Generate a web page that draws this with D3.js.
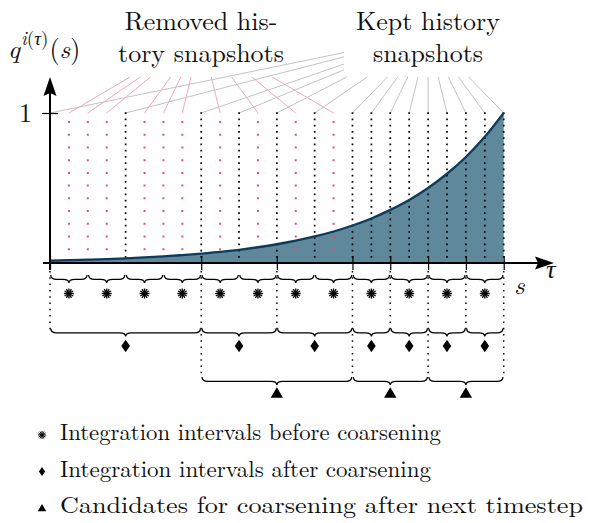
<!DOCTYPE html>
<html>
<head>
<meta charset="utf-8">
<script src="https://cdn.jsdelivr.net/npm/d3@7"></script>
<style>
  html, body { margin: 0; padding: 0; background: #fff; }
  svg { display: block; }
</style>
</head>
<body>
<svg id="chart" width="594" height="523"></svg>
<script>
// ---- data ---------------------------------------------------------------
// history snapshots along the time axis (grid index 0..24)
const snapshots = [0, 1, 2, 3, 4, 5, 6, 7, 8, 9, 10, 11, 12, 13, 14, 15, 16, 17, 18, 19, 20, 21, 22, 23, 24];
// weight q(s) at each snapshot
const qValues = [0.016, 0.019, 0.022, 0.026, 0.031, 0.037, 0.044, 0.053, 0.063, 0.074, 0.088, 0.105, 0.125,
                 0.149, 0.177, 0.210, 0.250, 0.297, 0.354, 0.420, 0.500, 0.595, 0.707, 0.841, 1.000];
const keptSnapshots = [0, 4, 8, 10, 12, 14, 16, 17, 18, 19, 20, 21, 22, 23, 24];
const removedSnapshots = [1, 2, 3, 5, 6, 7, 9, 11, 13, 15];
const intervalsBefore = [[0, 2], [2, 4], [4, 6], [6, 8], [8, 10], [10, 12], [12, 14], [14, 16], [16, 18], [18, 20], [20, 22], [22, 24]];
const intervalsAfter = [[0, 8], [8, 12], [12, 16], [16, 18], [18, 20], [20, 22], [22, 24]];
const coarseningCandidates = [[8, 16], [16, 20], [20, 24]];
const axisTicks = [0, 8, 12, 16, 18, 20, 22, 24];
const yTicks = [1];
const removedLabel = ["Removed his-", "tory snapshots"];
const keptLabel = ["Kept history", "snapshots"];
const legendMarks = ["asterisk", "diamond", "triangle"];
const legendTexts = ["Integration intervals before coarsening",
                     "Integration intervals after coarsening",
                     "Candidates for coarsening after next timestep"];

// ---- setup ----------------------------------------------------------------
const serif = "'Latin Modern Roman','CMU Serif','Liberation Serif','Times New Roman',serif";
const svg = d3.select("#chart");
const x = d3.scaleLinear().domain([0, 24]).range([50, 503.7]);
const y = d3.scaleLinear().domain([0, 1]).range([263, 113]);

const ink = "#000";
const textInk = "#111";
const fillColor = "#5f889b";
const curveColor = "#0b3c5c";
const pinkDot = "#ee4d72";
const pinkLead = "#f6a6b9";
const grayLead = "#c3c3c3";

// ---- two-line labels and their leader lines ------------------------------
function labelBlock(lines, cx, baselines, size) {
  const g = svg.append("g");
  lines.forEach((s, i) => g.append("text")
    .attr("font-family", serif).attr("font-size", size)
    .attr("text-anchor", "middle").attr("fill", textInk)
    .attr("x", cx).attr("y", baselines[i]).text(s));
  return g;
}
const leadLayer = svg.append("g");
const removedG = labelBlock(removedLabel, 201, [29.5, 62], 26);
const keptG = labelBlock(keptLabel, 428, [29.5, 62], 26);

function boxOf(g, padX, padY) {
  const b = g.node().getBBox();
  return { x0: b.x - padX, x1: b.x + b.width + padX, y0: b.y - padY, y1: b.y + b.height + padY };
}
function clipStart(box, tx, ty) {
  const cx = (box.x0 + box.x1) / 2, cy = (box.y0 + box.y1) / 2;
  const dx = tx - cx, dy = ty - cy;
  const tX = dx > 0 ? (box.x1 - cx) / dx : dx < 0 ? (box.x0 - cx) / dx : Infinity;
  const tY = dy > 0 ? (box.y1 - cy) / dy : dy < 0 ? (box.y0 - cy) / dy : Infinity;
  const t = Math.min(tX, tY);
  return [cx + t * dx, cy + t * dy];
}
const removedBox = boxOf(removedG, 8, 7);
const keptBox = boxOf(keptG, 12, 7);

leadLayer.selectAll("line.rem").data(removedSnapshots).join("line")
  .attr("stroke", pinkLead).attr("stroke-width", 1)
  .each(function (d) {
    const [sx, sy] = clipStart(removedBox, x(d), y(1));
    d3.select(this).attr("x1", sx).attr("y1", sy).attr("x2", x(d)).attr("y2", y(1));
  });
leadLayer.selectAll("line.kept").data(keptSnapshots).join("line")
  .attr("stroke", grayLead).attr("stroke-width", 1)
  .each(function (d) {
    const [sx, sy] = clipStart(keptBox, x(d), y(1));
    d3.select(this).attr("x1", sx).attr("y1", sy).attr("x2", x(d)).attr("y2", y(1));
  });

// ---- area under q(s) --------------------------------------------------------
const pts = snapshots.map((s, i) => [s, qValues[i]]);
svg.append("path").datum(pts)
  .attr("fill", fillColor)
  .attr("d", d3.area().x(d => x(d[0])).y0(y(0)).y1(d => y(d[1])).curve(d3.curveMonotoneX));

// snapshot columns
svg.append("g").selectAll("line").data(removedSnapshots).join("line")
  .attr("x1", d => x(d)).attr("x2", d => x(d))
  .attr("y1", y(0)).attr("y2", y(1))
  .attr("stroke", pinkDot).attr("stroke-width", 2)
  .attr("stroke-dasharray", "2 10.73");
svg.append("g").selectAll("line").data(keptSnapshots).join("line")
  .attr("x1", d => x(d)).attr("x2", d => x(d))
  .attr("y1", y(1) - 0.8).attr("y2", y(0))
  .attr("stroke", ink).attr("stroke-width", 1.7)
  .attr("stroke-dasharray", "1.7 4.55");

svg.append("path").datum(pts)
  .attr("fill", "none").attr("stroke", curveColor).attr("stroke-width", 2.3)
  .attr("d", d3.line().x(d => x(d[0])).y(d => y(d[1])).curve(d3.curveMonotoneX));

// ---- axes -----------------------------------------------------------------
const axY = svg.append("g").attr("transform", "translate(58,0)")
  .call(d3.axisLeft(y).tickValues(yTicks).tickSize(16).tickPadding(10).tickFormat(d3.format("d")));
axY.select(".domain").remove();
axY.selectAll(".tick line").attr("stroke", ink).attr("stroke-width", 1.2);
axY.selectAll(".tick text").attr("font-family", serif).attr("font-size", 26).attr("fill", textInk)
  .attr("dy", "0.34em");

const axX = svg.append("g").attr("transform", "translate(0,256)")
  .call(d3.axisBottom(x).tickValues(axisTicks).tickSize(14).tickFormat(""));
axX.select(".domain").remove();
axX.selectAll(".tick line").attr("stroke", ink).attr("stroke-width", 1.2);

svg.append("line").attr("x1", 50).attr("x2", 50).attr("y1", 270).attr("y2", 92)
  .attr("stroke", ink).attr("stroke-width", 2);
svg.append("path").attr("d", "M50,77 L56.5,96 L50,93 L43.5,96 Z").attr("fill", ink);
svg.append("line").attr("x1", 43).attr("x2", 541).attr("y1", 263).attr("y2", 263)
  .attr("stroke", ink).attr("stroke-width", 2);
svg.append("path").attr("d", "M554,263 L535,256.5 L538,263 L535,269.5 Z").attr("fill", ink);

// axis captions: q^{i(τ)}(s), s and τ
const qLab = svg.append("text").attr("font-family", serif).attr("font-size", 26).attr("fill", textInk)
  .attr("x", 8).attr("y", 58);
qLab.append("tspan").attr("font-style", "italic").text("q");
const sup = qLab.append("tspan").attr("dy", -13).attr("dx", 1).attr("font-size", 19);
sup.append("tspan").attr("font-style", "italic").text("i");
sup.append("tspan").text("(");
sup.append("tspan").attr("font-style", "italic").text("τ");
sup.append("tspan").text(")");
qLab.append("tspan").attr("dy", 13).attr("dx", 1).attr("font-size", 26).text("(");
qLab.append("tspan").attr("font-style", "italic").attr("font-size", 26).text("s");
qLab.append("tspan").attr("font-size", 26).text(")");

svg.append("text").attr("font-family", serif).attr("font-size", 26).attr("font-style", "italic")
  .attr("fill", textInk).attr("x", 514).attr("y", 294).text("s");
svg.append("text").attr("font-family", serif).attr("font-size", 26).attr("font-style", "italic")
  .attr("fill", textInk).attr("x", 546).attr("y", 278).text("τ");

// ---- braces ---------------------------------------------------------------
const rowTop = [275, 328.5, 377];
const rowMark = [293.5, 346, 393];
function bracePath(x0, x1, y0, h) {
  const xm = (x0 + x1) / 2, r = 6, yb = y0 + h * 0.55, yt = y0 + h;
  return `M${x0},${y0} Q${x0},${yb} ${x0 + r},${yb} L${xm - r},${yb} Q${xm},${yb} ${xm},${yt}` +
         ` Q${xm},${yb} ${xm + r},${yb} L${x1 - r},${yb} Q${x1},${yb} ${x1},${y0}`;
}
function drawBraces(data, row) {
  svg.append("g").selectAll("path").data(data).join("path")
    .attr("fill", "none").attr("stroke", ink).attr("stroke-width", 1.3)
    .attr("d", d => bracePath(x(d[0]) + 0.8, x(d[1]) - 0.8, rowTop[row], 8));
}
drawBraces(intervalsBefore, 0);
drawBraces(intervalsAfter, 1);
drawBraces(coarseningCandidates, 2);

// dotted separators below the axis
const candidateEnds = new Set(coarseningCandidates.flat());
svg.append("g").selectAll("line").data(axisTicks).join("line")
  .attr("x1", d => x(d)).attr("x2", d => x(d))
  .attr("y1", 271).attr("y2", d => candidateEnds.has(d) ? rowTop[2] + 1 : rowTop[1] + 1)
  .attr("stroke", ink).attr("stroke-width", 1.5).attr("stroke-dasharray", "1.5 4.8");

// ---- marks ----------------------------------------------------------------
function drawMark(g, kind, cx, cy, s, sw) {
  if (kind === "asterisk") {
    const r = 5 * s;
    [0, 30, 60, 90, 120, 150].forEach(a => {
      const rad = a * Math.PI / 180;
      g.append("line")
        .attr("x1", cx - r * Math.cos(rad)).attr("y1", cy - r * Math.sin(rad))
        .attr("x2", cx + r * Math.cos(rad)).attr("y2", cy + r * Math.sin(rad))
        .attr("stroke", ink).attr("stroke-width", sw);
    });
    g.append("circle").attr("cx", cx).attr("cy", cy).attr("r", 1.8 * s).attr("fill", ink);
  } else if (kind === "diamond") {
    const w = 4.3 * s, h = 6.3 * s;
    g.append("path").attr("d", `M${cx},${cy - h} L${cx + w},${cy} L${cx},${cy + h} L${cx - w},${cy} Z`).attr("fill", ink);
  } else {
    const w = 6.2 * s, h = 10.5 * s;
    g.append("path").attr("d", `M${cx},${cy - h * 0.55} L${cx + w},${cy + h * 0.45} L${cx - w},${cy + h * 0.45} Z`).attr("fill", ink);
  }
}
const markG = svg.append("g");
intervalsBefore.forEach(d => drawMark(markG, "asterisk", x((d[0] + d[1]) / 2), rowMark[0], 1, 1.3));
intervalsAfter.forEach(d => drawMark(markG, "diamond", x((d[0] + d[1]) / 2), rowMark[1], 1));
coarseningCandidates.forEach(d => drawMark(markG, "triangle", x((d[0] + d[1]) / 2), rowMark[2], 1));

// ---- legend ---------------------------------------------------------------
const legendBase = [440, 476.5, 513];
const legendMarkY = [435, 471.5, 508];
const legendMarkScale = [0.8, 0.72, 0.68];
const legendWidth = [381, 371, 523];
const legG = svg.append("g");
legendMarks.forEach((m, i) => {
  drawMark(legG, m, 42, legendMarkY[i], legendMarkScale[i], 1);
  legG.append("text").attr("font-family", serif).attr("font-size", 23.5)
    .attr("textLength", legendWidth[i]).attr("lengthAdjust", "spacingAndGlyphs")
    .attr("fill", textInk).attr("x", 60).attr("y", legendBase[i]).text(legendTexts[i]);
});
</script>
</body>
</html>
